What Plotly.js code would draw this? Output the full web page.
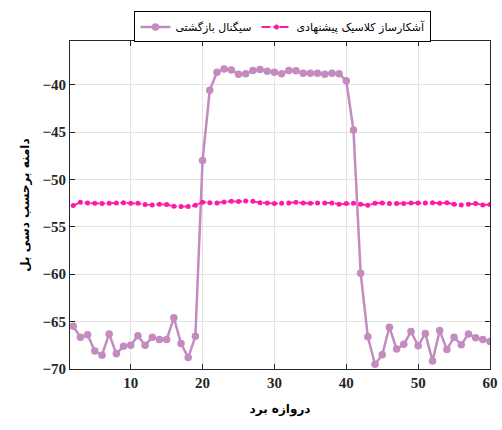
<!DOCTYPE html>
<html>
<head>
<meta charset="utf-8">
<script src="https://cdn.plot.ly/plotly-3.0.1.min.js"></script>
<style>html,body{margin:0;padding:0;background:#fff;}#chart{width:502px;height:430px;}</style>
</head>
<body>
<div id="chart"></div>
<script>
const rangeGate = [2,3,4,5,6,7,8,9,10,11,12,13,14,15,16,17,18,19,20,21,22,23,24,25,26,27,28,29,30,31,32,33,34,35,36,37,38,39,40,41,42,43,44,45,46,47,48,49,50,51,52,53,54,55,56,57,58,59,60];
const returnSignal = [-65.5,-66.65,-66.4,-68.1,-68.55,-66.3,-68.4,-67.6,-67.5,-66.5,-67.5,-66.65,-66.9,-66.9,-64.6,-67.3,-68.8,-66.55,
  -48.0,-40.6,-38.7,-38.35,-38.45,-38.9,-38.85,-38.5,-38.4,-38.6,-38.7,-38.85,-38.5,-38.55,-38.8,-38.8,-38.8,-38.9,-38.8,-38.85,-39.6,
  -44.8,-59.9,-66.6,-69.5,-68.5,-65.6,-67.9,-67.4,-66.05,-67.55,-66.25,-69.15,-65.95,-67.95,-66.65,-67.45,-66.3,-66.7,-66.9,-67.1];
const classicDetector = [-52.76,-52.41,-52.48,-52.52,-52.55,-52.52,-52.48,-52.45,-52.52,-52.52,-52.66,-52.69,-52.62,-52.66,-52.83,-52.87,-52.87,-52.73,-52.41,
  -52.45,-52.48,-52.38,-52.31,-52.34,-52.27,-52.31,-52.45,-52.48,-52.55,-52.52,-52.48,-52.41,-52.48,-52.52,-52.48,-52.48,-52.48,-52.62,-52.55,
  -52.52,-52.62,-52.73,-52.52,-52.48,-52.55,-52.55,-52.55,-52.48,-52.48,-52.48,-52.45,-52.52,-52.45,-52.62,-52.69,-52.62,-52.55,-52.69,-52.66];
const xTickVals = [10,20,30,40,50,60];
const seriesNames = ['سیگنال بازگشتی','آشکارساز کلاسیک پیشنهادی'];
const xTitle = 'دروازه برد';
const yTitle = 'دامنه برحسب دسی بل';

const tickFont = {family:'Liberation Serif', size:15, color:'#262626', weight:'bold'};
const faFont = {family:'DejaVu Sans', size:11, color:'#000'};

const traces = [
  {x: rangeGate, y: returnSignal, name: seriesNames[0], type:'scatter', mode:'lines+markers',
   line:{color:'#c38bbf', width:2.5}, marker:{color:'#c38bbf', size:7.5}},
  {x: rangeGate, y: classicDetector, name: seriesNames[1], type:'scatter', mode:'lines+markers',
   line:{color:'#ff1aa3', width:1.8, dash:'dashdot'}, marker:{color:'#ff1aa3', size:5}}
];

const axisCommon = {showline:true, linecolor:'#262626', linewidth:1, mirror:'ticks', ticks:'inside', ticklen:5,
  tickcolor:'#262626', showgrid:true, gridcolor:'#e3e3e3', gridwidth:1, zeroline:false, tickfont:tickFont};

const layout = {
  width:502, height:430,
  margin:{l:70, r:12, t:41, b:61},
  paper_bgcolor:'#fff', plot_bgcolor:'#fff',
  xaxis: Object.assign({}, axisCommon, {range:[1.55,60], tickvals:xTickVals,
    title:{text:xTitle, font:{family:'DejaVu Sans', size:12, color:'#000', weight:'bold'}, standoff:14}}),
  yaxis: Object.assign({}, axisCommon, {range:[-70,-35.4], dtick:5, tick0:-70,
    title:{text:yTitle, font:{family:'DejaVu Sans', size:12, color:'#000', weight:'bold'}, standoff:10}}),
  showlegend:true,
  legend:{orientation:'h', x:0.507, xanchor:'center', y:1.09, yanchor:'top', bordercolor:'#000', borderwidth:1,
    bgcolor:'#fff', font:faFont, itemwidth:30, tracegroupgap:0},
};

Plotly.newPlot('chart', traces, layout, {displayModeBar:false, staticPlot:true});
</script>
</body>
</html>
